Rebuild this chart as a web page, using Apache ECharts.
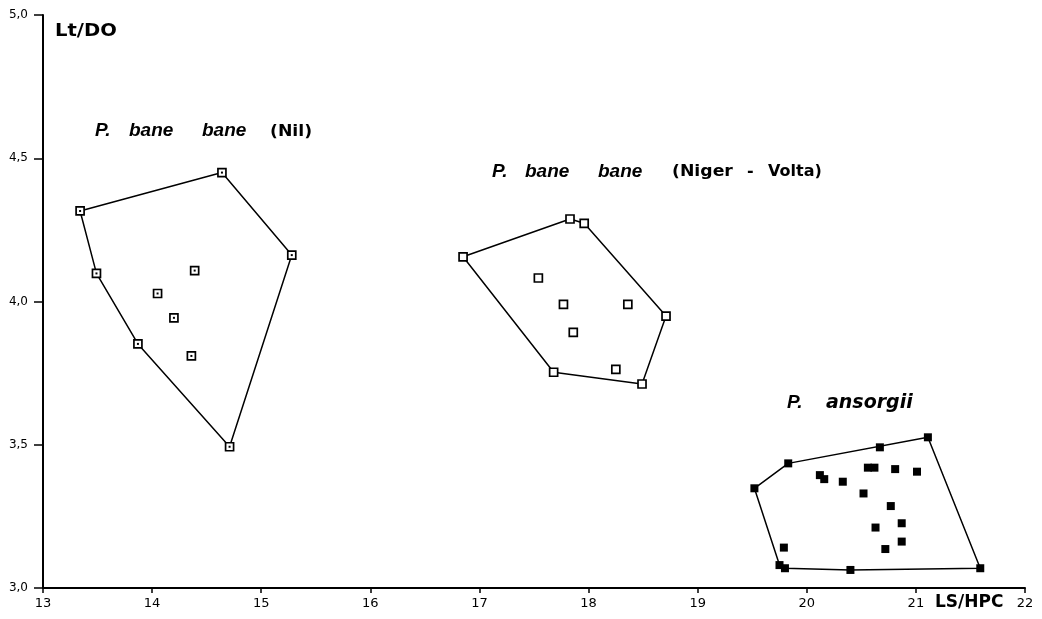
<!DOCTYPE html>
<html><head><meta charset="utf-8">
<script src="https://cdn.jsdelivr.net/npm/echarts@6/dist/echarts.min.js"></script>
<style>html,body{margin:0;padding:0;background:#fff}#c{width:1042px;height:619px}</style>
</head><body><div id="c"></div>
<script>
// Data (LS/HPC, Lt/DO)
const nilHull = [[13.34,4.316],[14.64,4.45],[15.28,4.162],[14.71,3.493],[13.87,3.852],[13.49,4.098],[13.34,4.316]];
const nilInner = [[14.39,4.108],[14.05,4.028],[14.20,3.943],[14.36,3.81]];
const nvHull = [[16.85,4.156],[17.83,4.288],[17.96,4.273],[18.71,3.949],[18.49,3.712],[17.68,3.753],[16.85,4.156]];
const nvInner = [[17.54,4.082],[17.77,3.99],[18.36,3.99],[17.86,3.892],[18.25,3.763]];
const ansHull = [[19.52,3.348],[19.83,3.435],[21.11,3.526],[21.59,3.069],[20.40,3.063],[19.80,3.069],[19.75,3.080],[19.52,3.348]];
const ansInner = [[20.67,3.491],[20.12,3.394],[20.16,3.38],[20.56,3.42],[20.62,3.42],[20.81,3.415],[21.01,3.406],
  [20.33,3.371],[20.52,3.33],[20.77,3.286],[20.87,3.226],[20.63,3.211],[20.87,3.162],[20.72,3.136],[19.79,3.141]];
const xTicks = {min:13, max:22, step:1};
const yTicks = {min:3, max:5, step:0.5};

const FONT = '"Liberation Sans", Arial, sans-serif';
const DV = '"DejaVu Sans", sans-serif';
const chart = echarts.init(document.getElementById('c'), null, {renderer:'canvas'});
const hullStyle = {color:'#000', width:1.5};
function hullLine(d){ return {type:'line', data:d, showSymbol:false, symbol:'none', lineStyle:hullStyle, silent:true, z:2, animation:false}; }
function hollow(d, size){ return {type:'scatter', data:d, symbol:'rect', symbolSize:size, itemStyle:{color:'#fff', borderColor:'#000', borderWidth:1.7, opacity:1}, z:3, animation:false}; }
function filled(d, size){ return {type:'scatter', data:d, symbol:'rect', symbolSize:size, itemStyle:{color:'#000', opacity:1}, z:4, animation:false}; }
function txt(x, y, s, font, sx){
  return {type:'text', x:x, y:y, scaleX:sx||1, style:{text:s, font:font, fill:'#000', verticalAlign:'middle', textVerticalAlign:'middle'}};
}

chart.setOption({
  backgroundColor:'#fff',
  animation:false,
  grid:{left:43, right:17, top:15, bottom:31, containLabel:false},
  xAxis:{type:'value', min:xTicks.min, max:xTicks.max, interval:xTicks.step,
    axisLine:{lineStyle:{color:'#000', width:2}},
    axisTick:{show:true, length:5, lineStyle:{color:'#000', width:1.5}},
    axisLabel:{color:'#000', fontFamily:DV, fontSize:13, margin:9},
    splitLine:{show:false}},
  yAxis:{type:'value', min:yTicks.min, max:yTicks.max, interval:yTicks.step,
    axisLine:{show:true, lineStyle:{color:'#000', width:2}},
    axisTick:{show:true, length:9, lineStyle:{color:'#000', width:1.5}},
    axisLabel:{color:'#000', fontFamily:DV, fontSize:12, margin:15, formatter:v=>v.toFixed(1).replace('.',',')},
    splitLine:{show:false}},
  series:[
    hullLine(nilHull), hollow(nilHull.slice(0,-1), 8), hollow(nilInner, 8),
    filled(nilHull.slice(0,-1), 2), filled(nilInner, 2),
    hullLine(nvHull), hollow(nvHull.slice(0,-1), 8), hollow(nvInner, 8),
    hullLine(ansHull), filled(ansHull.slice(0,-1), 8), filled(ansInner, 8)
  ],
  graphic:[
    txt(55, 32, 'Lt/DO', 'bold 17px '+DV, 1.15),
    txt(935, 603, 'LS/HPC', 'bold 17px '+DV),
    txt(95, 131, 'P.', 'italic bold 19px '+FONT),
    txt(129, 131, 'bane', 'italic bold 19px '+FONT),
    txt(202, 131, 'bane', 'italic bold 19px '+FONT),
    txt(270, 132, '(Nil)', 'bold 16px '+DV, 1.08),
    txt(492, 172, 'P.', 'italic bold 19px '+FONT),
    txt(525, 172, 'bane', 'italic bold 19px '+FONT),
    txt(598, 172, 'bane', 'italic bold 19px '+FONT),
    txt(672, 172, '(Niger', 'bold 16px '+DV, 1.08),
    txt(747, 172, '-', 'bold 16px '+DV),
    txt(768, 172, 'Volta)', 'bold 16px '+DV),
    txt(787, 403, 'P.', 'italic bold 19px '+FONT),
    txt(826, 403, 'ansorgii', 'italic bold 19px '+DV)
  ]
});
</script></body></html>
